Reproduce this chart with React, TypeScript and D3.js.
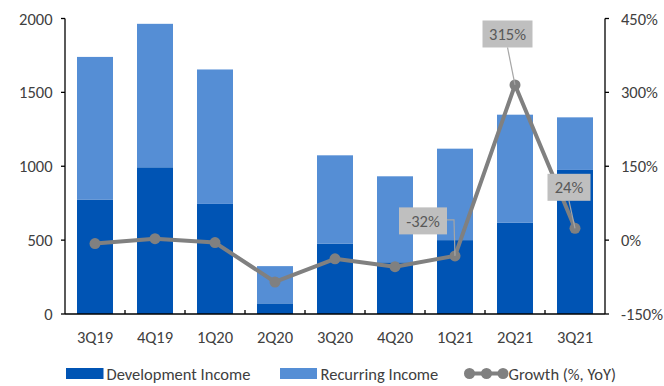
import React from "react";
import * as d3 from "d3";

const categories = ["3Q19", "4Q19", "1Q20", "2Q20", "3Q20", "4Q20", "1Q21", "2Q21", "3Q21"];
const developmentIncome = [775, 993, 745, 72, 477, 350, 500, 617, 975];
const recurringIncome = [965, 971, 910, 252, 597, 582, 619, 732, 356];
const growthYoY = [-7, 3, -5, -85, -38, -54, -32, 315, 24];
const leftTicks = [0, 500, 1000, 1500, 2000];
const rightTicks = [-150, 0, 150, 300, 450];
const annotations = [
  { index: 7, text: "315%", dx: -7.5, dy: -51, w: 50, kind: "straight" },
  { index: 6, text: "-32%", dx: -32, dy: -35, w: 48, kind: "elbow" },
  { index: 8, text: "24%", dx: -6, dy: -41, w: 43, kind: "straight" },
];

const W = 664;
const H = 386;
const FONT = "Carlito, Lato, 'Liberation Sans', sans-serif";
const DARK = "#0054B4";
const LIGHT = "#558ED5";
const GREY = "#808080";
const TEXT = "#404040";

export default function App() {
  const left = 65, right = 605, top = 18.5, bottom = 314;
  const x = d3.scaleBand<string>().domain(categories).range([left, right]).paddingInner(0.4).paddingOuter(0.2);
  const yL = d3.scaleLinear().domain([0, 2000]).range([bottom, top]);
  const yR = d3.scaleLinear().domain([-150, 450]).range([bottom, top]);
  const cx = (i: number) => (x(categories[i]) as number) + x.bandwidth() / 2;
  const line = d3.line<number>().x((_, i) => cx(i)).y((d) => yR(d));
  const step = x.step();

  return (
    <svg width={W} height={H} style={{ position: "absolute", left: 0, top: 0, background: "#fff" }} fontFamily={FONT}>
      {categories.map((c, i) => {
        const x0 = x(c) as number;
        const d = developmentIncome[i];
        const r = recurringIncome[i];
        return (
          <g key={c}>
            <rect x={x0} width={x.bandwidth()} y={yL(d)} height={yL(0) - yL(d)} fill={DARK} />
            <rect x={x0} width={x.bandwidth()} y={yL(d + r)} height={yL(d) - yL(d + r)} fill={LIGHT} />
          </g>
        );
      })}
      {/* axes */}
      <line x1={left} x2={left} y1={top} y2={bottom} stroke="#000" strokeWidth={1.3} />
      <line x1={right} x2={right} y1={top} y2={bottom} stroke="#000" strokeWidth={1.3} />
      <line x1={left} x2={right} y1={bottom} y2={bottom} stroke="#000" strokeWidth={1.5} />
      {leftTicks.map((t) => (
        <g key={"l" + t}>
          <line x1={left - 4} x2={left} y1={yL(t)} y2={yL(t)} stroke="#000" strokeWidth={1.3} />
          <text x={52.5} y={yL(t)} textAnchor="end" dominantBaseline="central" fontSize={16.5} fill={TEXT}>{t}</text>
        </g>
      ))}
      {rightTicks.map((t) => (
        <g key={"r" + t}>
          <line x1={right} x2={right + 4} y1={yR(t)} y2={yR(t)} stroke="#000" strokeWidth={1.3} />
          <text x={621} y={yR(t)} textAnchor="start" dominantBaseline="central" fontSize={16.5} fill={TEXT}>{t + "%"}</text>
        </g>
      ))}
      {categories.map((c, i) => (
        <g key={"x" + c}>
          {i > 0 && <line x1={left + step * i} x2={left + step * i} y1={bottom - 4} y2={bottom} stroke="#000" strokeWidth={1.3} />}
          <text x={cx(i)} y={343} textAnchor="middle" fontSize={16.5} fill={TEXT}>{c}</text>
        </g>
      ))}
      {/* growth line */}
      <path d={line(growthYoY) || ""} fill="none" stroke={GREY} strokeWidth={4} strokeLinejoin="round" />
      {growthYoY.map((g, i) => (
        <circle key={"p" + i} cx={cx(i)} cy={yR(g)} r={5.5} fill={GREY} />
      ))}
      {/* annotations */}
      {annotations.map((a) => {
        const px = cx(a.index);
        const py = yR(growthYoY[a.index]);
        const bx = px + a.dx;
        const by = py + a.dy;
        const h = 27;
        const leader =
          a.kind === "elbow"
            ? `M${bx + a.w / 2},${by - 1} L${px - 1},${by - 1} L${px},${py}`
            : `M${bx},${by + h / 2} L${px},${py}`;
        return (
          <g key={a.text}>
            <path d={leader} fill="none" stroke="#A6A6A6" strokeWidth={1.2} />
            <rect x={bx - a.w / 2} y={by - h / 2} width={a.w} height={h} fill="#BFBFBF" />
            <text x={bx} y={by} textAnchor="middle" dominantBaseline="central" fontSize={16.5} fill="#595959">{a.text}</text>
          </g>
        );
      })}
      {/* legend */}
      <rect x={66} y={368} width={37.5} height={11} fill={DARK} />
      <text x={106.5} y={373.5} dominantBaseline="central" fontSize={16.5} fill={TEXT}>Development Income</text>
      <rect x={280} y={368} width={37} height={11} fill={LIGHT} />
      <text x={320.5} y={373.5} dominantBaseline="central" fontSize={16.5} fill={TEXT}>Recurring Income</text>
      <line x1={469} x2={503.5} y1={373.5} y2={373.5} stroke={GREY} strokeWidth={4} />
      {[469.5, 486.5, 503].map((lx) => (
        <circle key={"lg" + lx} cx={lx} cy={373.5} r={5.5} fill={GREY} />
      ))}
      <text x={508.5} y={373.5} dominantBaseline="central" fontSize={16.5} fill={TEXT}>Growth (%, YoY)</text>
    </svg>
  );
}
